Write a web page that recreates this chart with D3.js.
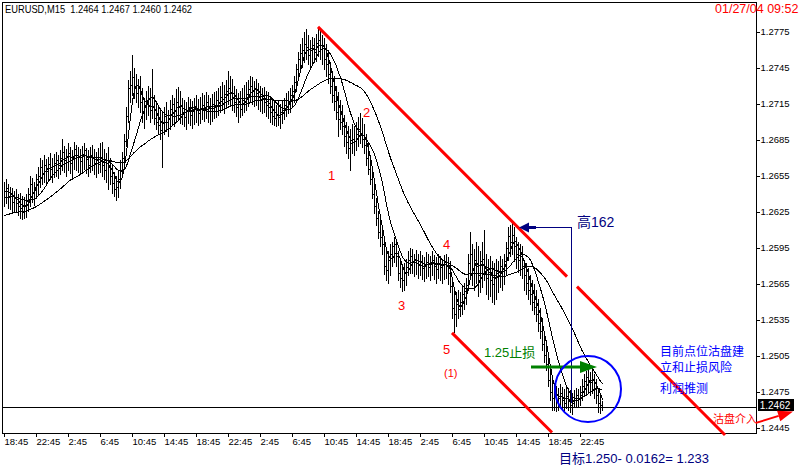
<!DOCTYPE html>
<html><head><meta charset="utf-8">
<script src="https://cdn.jsdelivr.net/npm/d3@7"></script>
<style>html,body{margin:0;padding:0;background:#fff;}svg{display:block;}</style>
</head><body>
<svg id="c" width="800" height="471"></svg>
<script>
// ---------------- data ----------------
const headerText = "EURUSD,M15\u00a0\u00a01.2464 1.2467 1.2460 1.2462";
const dateText = "01/27/04 09:52";
const lastPrice = 1.2462;
const timeLabels = ["18:45","22:45","2:45","6:45","10:45","14:45","18:45","22:45","2:45","6:45","10:45","14:45","18:45","2:45","6:45","10:45","14:45","18:45","22:45"];
const priceTicks = [1.2775,1.2745,1.2715,1.2685,1.2655,1.2625,1.2595,1.2565,1.2535,1.2505,1.2475,1.2445];

const highs = [
1.2650,1.2652,1.2648,1.2646,1.2645,1.2642,1.2644,1.2640,1.2641,1.2638,
1.2637,1.2640,1.2645,1.2655,1.2653,1.2650,1.2656,1.2662,1.2670,1.2668,
1.2672,1.2669,1.2671,1.2674,1.2670,1.2673,1.2675,1.2672,1.2676,1.2686,
1.2680,1.2677,1.2682,1.2679,1.2676,1.2683,1.2681,1.2679,1.2677,1.2680,
1.2682,1.2678,1.2676,1.2679,1.2681,1.2677,1.2675,1.2678,1.2682,1.2683,
1.2677,1.2674,1.2679,1.2670,1.2664,1.2658,1.2655,1.2660,1.2668,1.2675,
1.2690,1.2712,1.2735,1.2742,1.2756,1.2745,1.2740,1.2736,1.2738,1.2728,
1.2720,1.2726,1.2730,1.2728,1.2744,1.2722,1.2716,1.2712,1.2710,1.2708,
1.2712,1.2716,1.2710,1.2718,1.2722,1.2720,1.2727,1.2729,1.2726,1.2720,
1.2718,1.2716,1.2721,1.2719,1.2717,1.2720,1.2722,1.2719,1.2721,1.2724,
1.2722,1.2725,1.2722,1.2720,1.2723,1.2725,1.2726,1.2728,1.2730,1.2733,
1.2731,1.2735,1.2742,1.2738,1.2736,1.2730,1.2727,1.2724,1.2726,1.2728,
1.2731,1.2733,1.2735,1.2738,1.2737,1.2734,1.2736,1.2732,1.2730,1.2728,
1.2729,1.2726,1.2725,1.2720,1.2718,1.2716,1.2714,1.2717,1.2715,1.2718,
1.2720,1.2724,1.2726,1.2728,1.2731,1.2738,1.2748,1.2758,1.2765,1.2770,
1.2775,1.2777,1.2772,1.2768,1.2771,1.2770,1.2773,1.2779,1.2776,1.2772,
1.2770,1.2765,1.2760,1.2750,1.2742,1.2738,1.2730,1.2725,1.2718,1.2714,
1.2706,1.2700,1.2696,1.2694,1.2698,1.2696,1.2700,1.2704,1.2707,1.2703,
1.2698,1.2690,1.2682,1.2672,1.2660,1.2648,1.2636,1.2626,1.2618,1.2612,
1.2605,1.2595,1.2592,1.2598,1.2600,1.2604,1.2602,1.2592,1.2584,1.2580,
1.2582,1.2586,1.2592,1.2595,1.2594,1.2590,1.2593,1.2590,1.2592,1.2589,
1.2587,1.2591,1.2590,1.2588,1.2592,1.2589,1.2587,1.2590,1.2588,1.2586,
1.2589,1.2590,1.2587,1.2584,1.2570,1.2562,1.2558,1.2560,1.2558,1.2563,
1.2566,1.2570,1.2590,1.2608,1.2598,1.2594,1.2600,1.2596,1.2592,1.2600,
1.2610,1.2590,1.2586,1.2588,1.2584,1.2582,1.2586,1.2584,1.2588,1.2586,
1.2590,1.2600,1.2612,1.2614,1.2617,1.2612,1.2604,1.2600,1.2598,1.2596,
1.2585,1.2582,1.2578,1.2572,1.2568,1.2565,1.2560,1.2552,1.2545,1.2536,
1.2526,1.2518,1.2505,1.2494,1.2486,1.2482,1.2480,1.2478,1.2481,1.2479,
1.2477,1.2480,1.2478,1.2476,1.2474,1.2476,1.2478,1.2477,1.2480,1.2486,
1.2490,1.2492,1.2494,1.2491,1.2493,1.2490,1.2486,1.2478,1.2472,1.2467];

const lows = [
1.2630,1.2632,1.2628,1.2627,1.2624,1.2625,1.2626,1.2622,1.2620,1.2619,
1.2620,1.2621,1.2626,1.2630,1.2633,1.2631,1.2636,1.2640,1.2646,1.2648,
1.2650,1.2649,1.2651,1.2652,1.2650,1.2654,1.2655,1.2653,1.2656,1.2660,
1.2658,1.2655,1.2660,1.2657,1.2654,1.2661,1.2660,1.2658,1.2656,1.2659,
1.2661,1.2657,1.2655,1.2658,1.2660,1.2656,1.2654,1.2657,1.2658,1.2655,
1.2652,1.2650,1.2644,1.2648,1.2641,1.2638,1.2635,1.2637,1.2645,1.2655,
1.2664,1.2680,1.2700,1.2716,1.2722,1.2720,1.2716,1.2712,1.2708,1.2700,
1.2695,1.2702,1.2706,1.2700,1.2703,1.2698,1.2694,1.2690,1.2686,1.2662,
1.2690,1.2692,1.2688,1.2694,1.2698,1.2696,1.2700,1.2702,1.2699,1.2698,
1.2696,1.2694,1.2699,1.2697,1.2695,1.2698,1.2700,1.2697,1.2699,1.2702,
1.2701,1.2703,1.2700,1.2698,1.2701,1.2703,1.2704,1.2706,1.2708,1.2710,
1.2707,1.2712,1.2715,1.2713,1.2710,1.2708,1.2705,1.2700,1.2704,1.2706,
1.2708,1.2710,1.2713,1.2716,1.2715,1.2713,1.2714,1.2711,1.2709,1.2707,
1.2708,1.2705,1.2703,1.2700,1.2698,1.2697,1.2696,1.2697,1.2695,1.2699,
1.2702,1.2705,1.2707,1.2708,1.2712,1.2716,1.2726,1.2736,1.2742,1.2746,
1.2750,1.2752,1.2748,1.2745,1.2749,1.2750,1.2751,1.2755,1.2752,1.2748,
1.2744,1.2738,1.2732,1.2724,1.2716,1.2710,1.2702,1.2688,1.2694,1.2690,
1.2680,1.2674,1.2670,1.2660,1.2674,1.2672,1.2676,1.2680,1.2682,1.2679,
1.2674,1.2664,1.2656,1.2648,1.2636,1.2624,1.2614,1.2603,1.2596,1.2590,
1.2573,1.2568,1.2566,1.2572,1.2580,1.2583,1.2580,1.2568,1.2562,1.2559,
1.2560,1.2564,1.2572,1.2574,1.2574,1.2571,1.2573,1.2570,1.2572,1.2569,
1.2567,1.2570,1.2571,1.2568,1.2572,1.2569,1.2566,1.2570,1.2568,1.2566,
1.2569,1.2570,1.2565,1.2558,1.2536,1.2525,1.2530,1.2536,1.2538,1.2540,
1.2544,1.2548,1.2560,1.2570,1.2564,1.2560,1.2566,1.2555,1.2558,1.2562,
1.2568,1.2556,1.2552,1.2555,1.2550,1.2548,1.2552,1.2558,1.2562,1.2560,
1.2565,1.2572,1.2585,1.2588,1.2590,1.2584,1.2578,1.2575,1.2572,1.2570,
1.2560,1.2556,1.2552,1.2548,1.2543,1.2540,1.2534,1.2526,1.2520,1.2510,
1.2500,1.2493,1.2480,1.2468,1.2460,1.2460,1.2459,1.2460,1.2462,1.2461,
1.2459,1.2461,1.2460,1.2458,1.2456,1.2462,1.2463,1.2462,1.2464,1.2468,
1.2471,1.2473,1.2474,1.2472,1.2474,1.2470,1.2466,1.2458,1.2457,1.2460];

const closes = [
1.2642,1.2645,1.2637,1.2640,1.2633,1.2636,1.2632,1.2630,1.2628,1.2625,
1.2631,1.2634,1.2640,1.2648,1.2641,1.2646,1.2652,1.2655,1.2662,1.2657,
1.2664,1.2659,1.2665,1.2661,1.2663,1.2666,1.2668,1.2664,1.2670,1.2675,
1.2668,1.2671,1.2674,1.2666,1.2670,1.2677,1.2672,1.2671,1.2667,1.2673,
1.2676,1.2669,1.2664,1.2672,1.2670,1.2666,1.2668,1.2665,1.2671,1.2664,
1.2660,1.2668,1.2662,1.2655,1.2649,1.2644,1.2646,1.2652,1.2660,1.2670,
1.2684,1.2705,1.2728,1.2731,1.2737,1.2730,1.2724,1.2728,1.2716,1.2708,
1.2712,1.2718,1.2714,1.2710,1.2712,1.2703,1.2700,1.2697,1.2693,1.2700,
1.2705,1.2700,1.2703,1.2711,1.2715,1.2709,1.2716,1.2712,1.2714,1.2708,
1.2704,1.2710,1.2712,1.2706,1.2709,1.2713,1.2710,1.2707,1.2711,1.2714,
1.2712,1.2716,1.2712,1.2709,1.2715,1.2713,1.2718,1.2716,1.2721,1.2719,
1.2723,1.2726,1.2728,1.2724,1.2721,1.2716,1.2712,1.2715,1.2711,1.2718,
1.2720,1.2723,1.2727,1.2730,1.2726,1.2728,1.2724,1.2721,1.2718,1.2720,
1.2716,1.2714,1.2712,1.2708,1.2705,1.2703,1.2706,1.2704,1.2708,1.2710,
1.2714,1.2718,1.2716,1.2722,1.2726,1.2733,1.2744,1.2752,1.2757,1.2760,
1.2765,1.2762,1.2756,1.2760,1.2764,1.2758,1.2766,1.2768,1.2761,1.2764,
1.2752,1.2748,1.2740,1.2730,1.2722,1.2717,1.2708,1.2702,1.2700,1.2696,
1.2688,1.2683,1.2678,1.2682,1.2686,1.2684,1.2690,1.2694,1.2690,1.2686,
1.2681,1.2670,1.2661,1.2652,1.2640,1.2630,1.2620,1.2608,1.2604,1.2598,
1.2580,1.2576,1.2585,1.2590,1.2596,1.2598,1.2588,1.2574,1.2570,1.2568,
1.2575,1.2579,1.2585,1.2588,1.2583,1.2586,1.2582,1.2581,1.2584,1.2578,
1.2580,1.2583,1.2579,1.2582,1.2585,1.2580,1.2577,1.2582,1.2579,1.2581,
1.2583,1.2580,1.2574,1.2563,1.2545,1.2540,1.2548,1.2544,1.2550,1.2556,
1.2559,1.2564,1.2582,1.2590,1.2576,1.2585,1.2580,1.2572,1.2584,1.2586,
1.2578,1.2570,1.2575,1.2568,1.2565,1.2570,1.2574,1.2575,1.2580,1.2578,
1.2584,1.2595,1.2605,1.2600,1.2606,1.2596,1.2590,1.2585,1.2588,1.2580,
1.2572,1.2566,1.2560,1.2556,1.2550,1.2546,1.2540,1.2532,1.2526,1.2515,
1.2506,1.2498,1.2485,1.2475,1.2470,1.2472,1.2468,1.2470,1.2474,1.2468,
1.2466,1.2471,1.2467,1.2464,1.2466,1.2470,1.2472,1.2469,1.2475,1.2480,
1.2484,1.2487,1.2485,1.2483,1.2486,1.2478,1.2472,1.2466,1.2464,1.2462];

// moving averages: periods and their values at the chart's left edge
const maPeriods = [5, 13, 34];
const maStartValues = [1.2641, 1.2636, 1.2621];

// annotations (bar index, price)
const upperChannel = [{i:157, p:1.2779}, {i:360.5, p:1.24389}];
const upperGap = [281.5, 286.5];
const lowerChannel = [{i:224, p:1.2524}, {i:274, p:1.2441}];
const waveLabels = [
  {t:"1", i:162, p:1.26514, s:13}, {t:"2", i:179.5, p:1.27039, s:13},
  {t:"3", i:197, p:1.25431, s:13}, {t:"4", i:219.5, p:1.25939, s:13},
  {t:"5", i:219.5, p:1.25064, s:13}, {t:"(1)", i:220, p:1.24872, s:11}];
const highArrow = {i0:257.5, i1:283.5, p:1.2612, pEnd:1.2466};
const stopArrow = {i0:263.5, i1:296.5, p:1.24956};
const circleMark = {i:292, p:1.24772, r:33};
const entryArrow = {i0:376, p0:1.24490, i1:394.5, p1:1.24585};
const notes = [
  {t:"高162", i:286.5, p:1.26122, c:"#000080", s:14},
  {t:"1.25止损", i:240, p:1.25039, c:"#008000", s:13},
  {t:"目前点位沽盘建", i:328, p:1.25047, c:"#0000ff", s:12},
  {t:"立和止损风险", i:328, p:1.24914, c:"#0000ff", s:12},
  {t:"利润推测", i:328, p:1.24739, c:"#0000ff", s:12},
  {t:"沽盘介入", i:354.5, p:1.24489, c:"#ff0000", s:11},
  {t:"目标1.250- 0.0162= 1.233", i:277.5, p:1.24156, c:"#000080", s:13}];

// ---------------- drawing ----------------
const svg = d3.select("#c");
const FONT = "'Liberation Sans','Noto Sans CJK SC',sans-serif";
const L = 2, T = 2, R = 756, B = 433;
const x = d3.scaleLinear().domain([0, 299]).range([4, 602]);
const y = d3.scaleLinear().domain([1.2445, 1.2775]).range([427.7, 31.7]);
const ry = v => Math.round(y(v));

// bars
const gBars = svg.append("g").attr("shape-rendering", "crispEdges").attr("fill", "#000");
closes.forEach((c, i) => {
  const X = Math.round(x(i));
  const yh = ry(highs[i]), yl = ry(lows[i]);
  gBars.append("rect").attr("x", X).attr("y", yh).attr("width", 1).attr("height", yl - yh + 1);
  gBars.append("rect").attr("x", X + 1).attr("y", ry(c)).attr("width", 1).attr("height", 1);
});

// moving averages
maPeriods.forEach((n, k) => {
  const seed = maStartValues[k];
  const vals = closes.map((c, i) => {
    let s = 0;
    for (let j = i - n + 1; j <= i; j++) s += j < 0 ? seed : closes[j];
    return s / n;
  });
  svg.append("path").datum(vals)
    .attr("d", d3.line().x((d, i) => x(i) + 0.5).y(d => y(d)))
    .attr("fill", "none").attr("stroke", "#000").attr("stroke-width", 1)
    .attr("shape-rendering", "crispEdges");
});

// frame
const gF = svg.append("g").attr("stroke", "#000").attr("shape-rendering", "crispEdges");
gF.append("line").attr("x1", L).attr("x2", R).attr("y1", T + 0.5).attr("y2", T + 0.5);
gF.append("line").attr("x1", L + 0.5).attr("x2", L + 0.5).attr("y1", T).attr("y2", B);
gF.append("line").attr("x1", L).attr("x2", R + 1).attr("y1", B + 0.5).attr("y2", B + 0.5);

// current price line
svg.append("line").attr("x1", L).attr("x2", R).attr("y1", ry(lastPrice) + 0.5).attr("y2", ry(lastPrice) + 0.5)
  .attr("stroke", "#000").attr("shape-rendering", "crispEdges");

// y axis (right)
const yAxis = svg.append("g").attr("transform", `translate(${R + 0.5},0)`)
  .call(d3.axisRight(y).tickValues(priceTicks).tickFormat(d3.format(".4f")).tickSize(3).tickPadding(1));
yAxis.select(".domain").attr("d", `M0,${T}V${B + 1}`);
yAxis.selectAll("line").attr("shape-rendering", "crispEdges");
yAxis.selectAll("text").attr("font-family", FONT).attr("font-size", 9.5).attr("fill", "#000");

// x axis
const xAxis = svg.append("g").attr("transform", `translate(0,${B + 0.5})`)
  .call(d3.axisBottom(x).tickValues(timeLabels.map((d, k) => k * 16)).tickFormat((d, k) => timeLabels[k]).tickSize(3).tickPadding(2));
xAxis.select(".domain").remove();
xAxis.selectAll("line").attr("shape-rendering", "crispEdges");
xAxis.selectAll(".tick").attr("transform", d => `translate(${Math.round(x(d)) + 0.5},0)`);
xAxis.selectAll("text").attr("font-family", FONT).attr("font-size", 9.5).attr("fill", "#000")
  .attr("text-anchor", "start").attr("x", 0);

// header + date
svg.append("text").attr("x", 5).attr("y", 13).text(headerText)
  .attr("font-family", FONT).attr("font-size", 10.5).attr("fill", "#000")
  .attr("textLength", 187).attr("lengthAdjust", "spacingAndGlyphs");
svg.append("text").attr("x", 715).attr("y", 13).text(dateText)
  .attr("font-family", FONT).attr("font-size", 12.5).attr("fill", "#ff0000");

// price box
const yl0 = ry(lastPrice);
svg.append("rect").attr("x", 758).attr("y", yl0 - 8).attr("width", 36).attr("height", 12).attr("fill", "#000");
svg.append("text").attr("x", 775).attr("y", yl0 + 1.5).attr("text-anchor", "middle").text(d3.format(".4f")(lastPrice))
  .attr("font-family", FONT).attr("font-size", 10).attr("fill", "#fff");

// channels
const chY = (a, b, i) => a.p + (b.p - a.p) * (i - a.i) / (b.i - a.i);
const red = svg.append("g").attr("stroke", "#ff0000").attr("stroke-width", 3).attr("fill", "none");
const [ua, ub] = upperChannel;
[[ua.i, upperGap[0]], [upperGap[1], ub.i]].forEach(([i0, i1]) => {
  red.append("line").attr("x1", x(i0)).attr("y1", y(chY(ua, ub, i0))).attr("x2", x(i1)).attr("y2", y(chY(ua, ub, i1)));
});
const [la, lb] = lowerChannel;
red.append("line").attr("x1", x(la.i)).attr("y1", y(la.p)).attr("x2", x(lb.i)).attr("y2", y(lb.p));

// navy "high" arrow
const navy = "#000080";
const hy = Math.round(y(highArrow.p)) + 0.5, hx0 = Math.round(x(highArrow.i0)), hx1 = Math.round(x(highArrow.i1)) + 0.5;
svg.append("path").attr("d", `M${hx0 + 14},${hy}H${hx1}V${Math.round(y(highArrow.pEnd))}`)
  .attr("stroke", navy).attr("fill", "none").attr("shape-rendering", "crispEdges");
svg.append("path").attr("d", `M${hx0},${hy}L${hx0 + 10},${hy - 5}L${hx0 + 10},${hy - 1.5}L${hx0 + 17},${hy - 1.5}L${hx0 + 17},${hy + 1.5}L${hx0 + 10},${hy + 1.5}L${hx0 + 10},${hy + 5}Z`)
  .attr("fill", navy);

// green stop arrow
const gy = y(stopArrow.p), gx0 = x(stopArrow.i0), gx1 = x(stopArrow.i1);
svg.append("line").attr("x1", gx0).attr("x2", gx1 - 14).attr("y1", gy).attr("y2", gy)
  .attr("stroke", "#008000").attr("stroke-width", 3);
svg.append("path").attr("d", `M${gx1},${gy}L${gx1 - 17},${gy - 6}L${gx1 - 17},${gy + 6}Z`).attr("fill", "#008000");

// circle
svg.append("circle").attr("cx", x(circleMark.i)).attr("cy", y(circleMark.p)).attr("r", circleMark.r)
  .attr("fill", "none").attr("stroke", "#0000ff").attr("stroke-width", 2);

// red entry arrow
const ex0 = x(entryArrow.i0), ey0 = y(entryArrow.p0), ex1 = x(entryArrow.i1), ey1 = y(entryArrow.p1);
const len = Math.hypot(ex1 - ex0, ey1 - ey0), ux = (ex1 - ex0) / len, uy = (ey1 - ey0) / len;
const bx = ex1 - 15 * ux, by = ey1 - 15 * uy;
svg.append("line").attr("x1", ex0).attr("y1", ey0).attr("x2", bx).attr("y2", by)
  .attr("stroke", "#ff0000").attr("stroke-width", 2);
svg.append("path").attr("d", `M${ex1},${ey1}L${bx - 5.5 * uy},${by + 5.5 * ux}L${bx + 5.5 * uy},${by - 5.5 * ux}Z`).attr("fill", "#ff0000");

// wave labels
svg.append("g").selectAll("text").data(waveLabels).join("text")
  .attr("x", d => x(d.i)).attr("y", d => y(d.p)).text(d => d.t)
  .attr("font-family", FONT).attr("font-size", d => d.s).attr("fill", "#ff0000");

// notes
svg.append("g").selectAll("text").data(notes).join("text")
  .attr("x", d => x(d.i)).attr("y", d => y(d.p)).text(d => d.t)
  .attr("font-family", FONT).attr("font-size", d => d.s).attr("fill", d => d.c);
</script>
</body></html>
